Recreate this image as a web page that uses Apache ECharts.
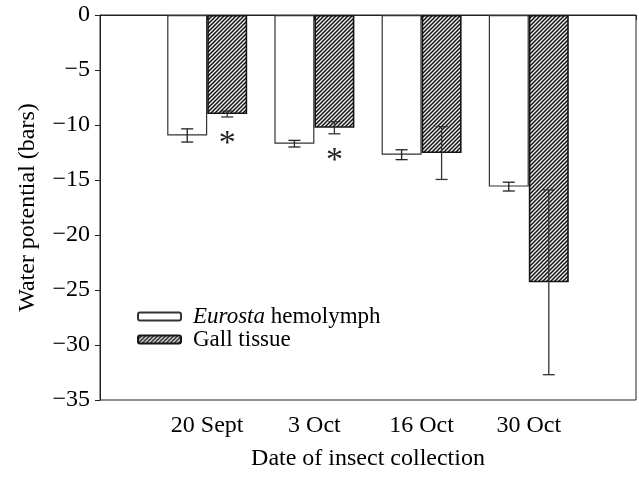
<!DOCTYPE html>
<html>
<head>
<meta charset="utf-8">
<script src="https://cdn.jsdelivr.net/npm/echarts@6/dist/echarts.min.js"></script>
<style>
html, body { margin: 0; padding: 0; background: #fff; }
#chart { width: 639px; height: 477px; }
</style>
</head>
<body>
<div id="chart"></div>
<script>
// data
var dates = ['20 Sept', '3 Oct', '16 Oct', '30 Oct'];
var hemolymph = [-10.95, -11.7, -12.7, -15.6];
var hemolymphErr = [0.6, 0.3, 0.45, 0.4];
var gall = [-9.0, -10.25, -12.55, -24.3];
var gallErr = [0.27, 0.55, 2.4, 8.4];
var gallSig = [1, 1, 0, 0];

var FONT = 'Liberation Serif';
var BAR_W = 40;

// pad the category axis so the ticks sit at both ends of the frame
var cats = [''].concat(dates, ['']);
function pad(arr) { return [null].concat(arr, [null]); }

function hatchPattern() {
    var c = document.createElement('canvas');
    c.width = 4; c.height = 4;
    var g = c.getContext('2d');
    g.fillStyle = '#f2f2f2';
    g.fillRect(0, 0, 4, 4);
    g.strokeStyle = '#151515';
    g.lineWidth = 1.5;
    g.beginPath();
    g.moveTo(-1, 5); g.lineTo(5, -1);
    g.moveTo(-1, 1); g.lineTo(1, -1);
    g.moveTo(3, 5); g.lineTo(5, 3);
    g.stroke();
    return c;
}

function errData(vals, errs, sig) {
    var out = [];
    for (var i = 0; i < vals.length; i++) {
        out.push([i + 1, vals[i], errs[i], sig ? sig[i] : 0]);
    }
    return out;
}

// error bars (and significance stars) drawn through the axis scales
function errRender(offset, color) {
    return function (params, api) {
        var x = api.value(0), v = api.value(1), e = api.value(2), s = api.value(3);
        var hi = api.coord([x, v + e]);
        var lo = api.coord([x, v - e]);
        var cx = hi[0] + offset;
        var cap = 6;
        var st = { stroke: color, lineWidth: 1.3 };
        var kids = [
            { type: 'line', shape: { x1: cx, y1: hi[1], x2: cx, y2: lo[1] }, style: st },
            { type: 'line', shape: { x1: cx - cap, y1: hi[1], x2: cx + cap, y2: hi[1] }, style: st },
            { type: 'line', shape: { x1: cx - cap, y1: lo[1], x2: cx + cap, y2: lo[1] }, style: st }
        ];
        if (s) {
            kids.push({
                type: 'text',
                style: {
                    text: '*', x: cx, y: lo[1] + 10,
                    font: '34px "' + FONT + '"', fill: '#222',
                    align: 'center', verticalAlign: 'top'
                }
            });
        }
        return { type: 'group', children: kids };
    };
}

var chart = echarts.init(document.getElementById('chart'));

var option = {
    animation: false,
    backgroundColor: '#fff',
    textStyle: { fontFamily: FONT, color: '#000' },
    grid: {
        left: 100, right: 3, top: 15, bottom: 77,
        show: true, borderColor: '#222', borderWidth: 1
    },
    legend: {
        orient: 'vertical',
        left: 132, top: 300,
        itemWidth: 43, itemHeight: 8, itemGap: 0,
        textStyle: {
            fontFamily: FONT, fontSize: 23, color: '#000', lineHeight: 23,
            padding: [0, 0, 0, 7],
            rich: {
                i: { fontFamily: FONT, fontSize: 23, fontStyle: 'italic', color: '#000', lineHeight: 23 }
            }
        },
        formatter: function (name) {
            return name === 'Eurosta hemolymph' ? '{i|Eurosta} hemolymph' : name;
        },
        data: ['Eurosta hemolymph', 'Gall tissue']
    },
    xAxis: {
        type: 'category',
        data: cats,
        boundaryGap: false,
        name: 'Date of insect collection',
        nameLocation: 'middle',
        nameGap: 47,
        nameTextStyle: { fontFamily: FONT, fontSize: 24, color: '#000' },
        axisLine: { lineStyle: { color: '#222', width: 1 } },
        axisTick: { show: true, length: 5, inside: false, interval: 0, lineStyle: { color: '#222' } },
        axisLabel: { interval: 0, margin: 14, fontFamily: FONT, fontSize: 24, color: '#000' },
        splitLine: { show: false }
    },
    yAxis: {
        type: 'value',
        min: -35, max: 0, interval: 5,
        name: 'Water potential (bars)',
        nameLocation: 'middle',
        nameGap: 60,
        nameTextStyle: { fontFamily: FONT, fontSize: 24, color: '#000' },
        axisLine: { show: true, lineStyle: { color: '#222', width: 1 } },
        axisTick: { show: true, length: 5, inside: false, lineStyle: { color: '#222' } },
        axisLabel: {
            margin: 10, fontFamily: FONT, fontSize: 24, color: '#000',
            formatter: function (v) { return String(v).replace('-', '\u2212'); }
        },
        splitLine: { show: false }
    },
    series: [
        {
            name: 'Eurosta hemolymph',
            type: 'bar',
            data: pad(hemolymph),
            barWidth: BAR_W,
            barGap: '0%',
            itemStyle: { color: '#fff', borderColor: '#333', borderWidth: 1.2 }
        },
        {
            name: 'Gall tissue',
            type: 'bar',
            data: pad(gall),
            barWidth: BAR_W,
            barGap: '0%',
            itemStyle: {
                color: { image: hatchPattern(), repeat: 'repeat' },
                borderColor: '#151515', borderWidth: 1.6
            }
        },
        {
            type: 'custom',
            renderItem: errRender(-BAR_W / 2, '#222'),
            data: errData(hemolymph, hemolymphErr),
            z: 10, silent: true
        },
        {
            type: 'custom',
            renderItem: errRender(BAR_W / 2, '#333'),
            data: errData(gall, gallErr, gallSig),
            z: 10, silent: true
        }
    ]
};

chart.setOption(option);
</script>
</body>
</html>
